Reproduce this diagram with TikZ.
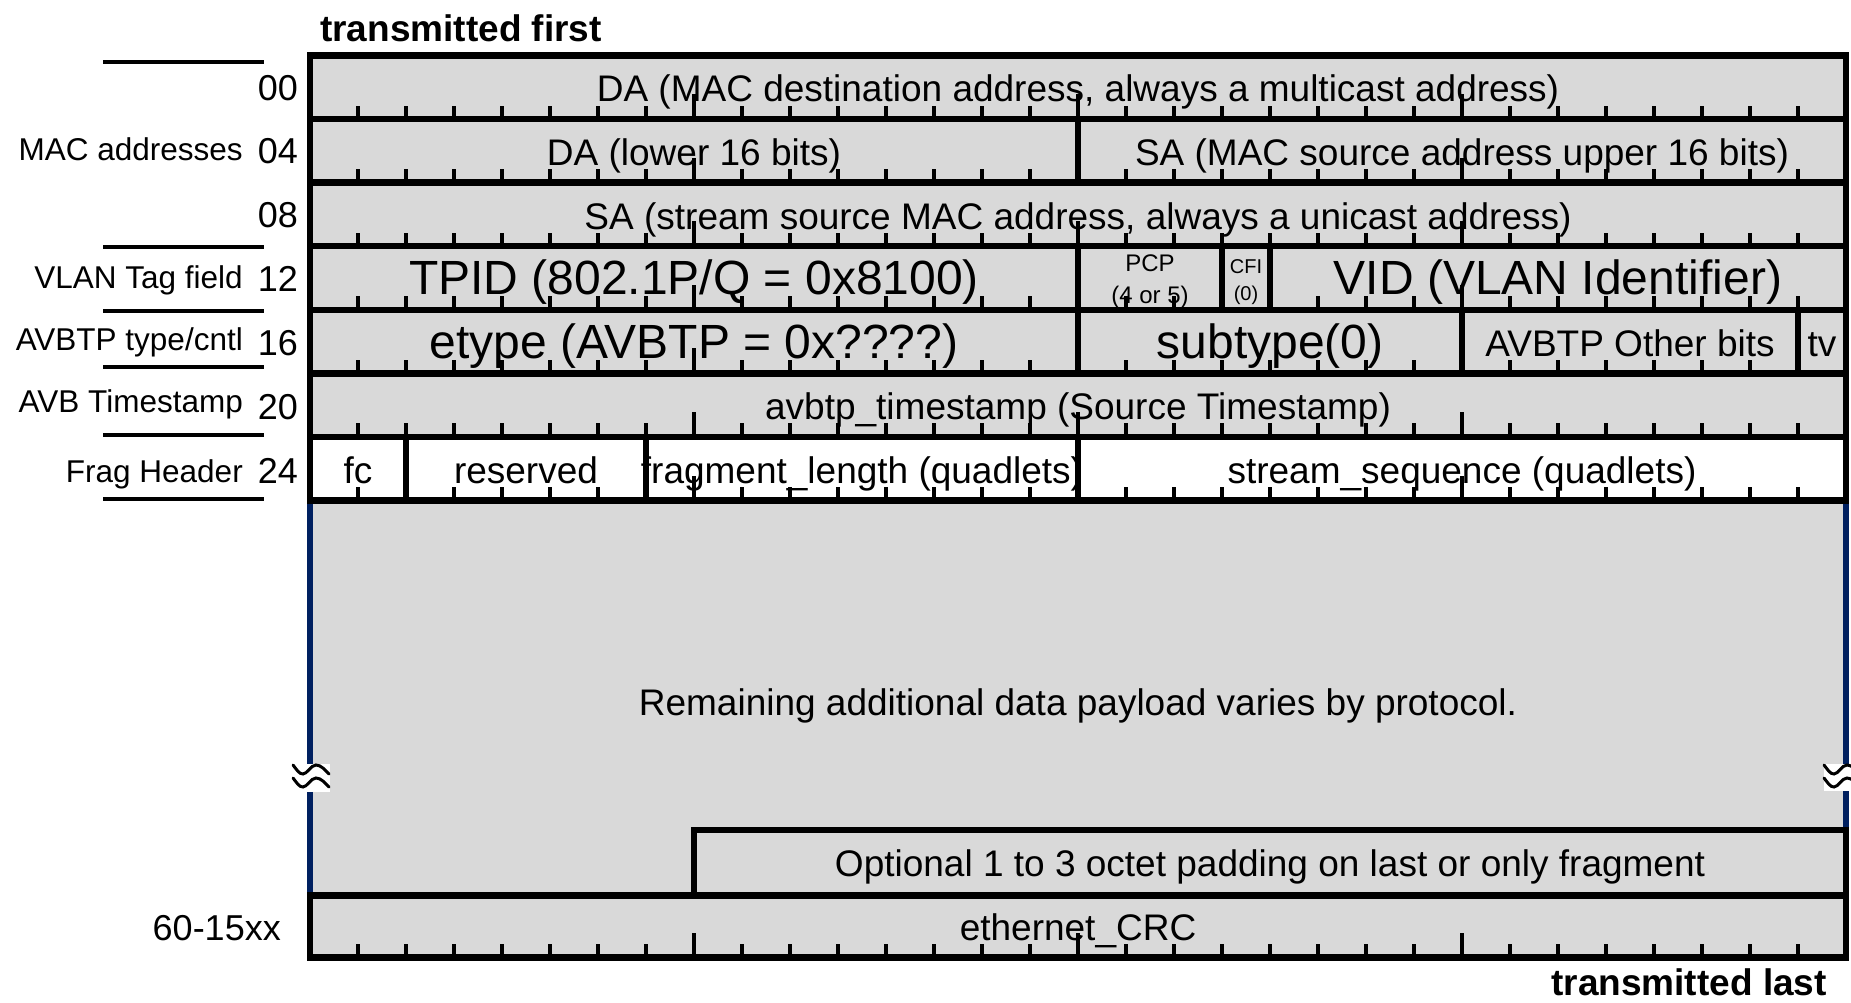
\documentclass[tikz,border=0pt]{standalone}
\usepackage{fontspec}
\setmainfont{Liberation Sans}
\definecolor{cellgray}{RGB}{217,217,217}
\definecolor{navyline}{RGB}{0,32,96}
\newcommand{\fsN}{\fontsize{37}{42}\selectfont}
\newcommand{\fsB}{\fontsize{48}{54}\selectfont}
\newcommand{\fsL}{\fontsize{31.5}{36}\selectfont}
\newcommand{\fsNum}{\fontsize{36}{40}\selectfont}
\newcommand{\fsP}{\fontsize{24}{28}\selectfont}
\newcommand{\fsC}{\fontsize{20}{24}\selectfont}
\newcommand{\fsT}{\fontsize{37}{42}\selectfont\bfseries}
\begin{document}
\begin{tikzpicture}[x=1pt,y=-1pt,
  txt/.style={inner sep=0pt,anchor=base,font=\fsN},
  bigtxt/.style={txt,font=\fsB},
  numtxt/.style={inner sep=0pt,anchor=base east,font=\fsNum},
  lbltxt/.style={inner sep=0pt,anchor=base east,font=\fsL},
  heavy/.style={line width=6.5pt,black},
  navy/.style={line width=6.5pt,navyline},
  tickline/.style={line width=3.5pt,black},
  sideline/.style={line width=3.5pt,black},
  wave/.style={line width=3pt,black,line cap=round}]
\useasboundingbox (0,0) rectangle (1851,1003);
\fill[white] (0,0) rectangle (1851,1003);
% fills
\fill[cellgray] (310,55.5) rectangle (1846,436.9);
\fill[white] (310,436.9) rectangle (1846,500.5);
\fill[cellgray] (310,500.5) rectangle (1846,957.5);
% header texts
\node[inner sep=0pt,anchor=base west,font=\fsT] (tfirst) at (320,42) {transmitted first};
\node[inner sep=0pt,anchor=base east,font=\fsT] (tlast) at (1827,995) {transmitted last};
% left labels
\node[numtxt] (n00) at (298,100.6) {00};
\node[numtxt] (n04) at (298,164) {04};
\node[numtxt] (n08) at (298,227.5) {08};
\node[numtxt] (n12) at (298,291.3) {12};
\node[numtxt] (n16) at (298,355) {16};
\node[numtxt] (n20) at (298,419.5) {20};
\node[numtxt] (n24) at (298,483) {24};
\node[numtxt] (ncrc) at (281,940) {60-15xx};
\node[lbltxt] (lmac) at (243,161) {MAC addresses};
\node[lbltxt] (lvlan) at (243,288.5) {VLAN Tag field};
\node[lbltxt] (lavbtp) at (243,350.5) {AVBTP type/cntl};
\node[lbltxt] (lts) at (243,412) {AVB Timestamp};
\node[lbltxt] (lfrag) at (243,482) {Frag Header};
\foreach \yy in {62,247,311,367,435,499}
  \draw[sideline] (103,\yy) -- (264,\yy);
% row texts
\node[txt] (da) at (1078,102) {DA (MAC destination address, always a multicast address)};
\node[txt] (dalow) at (694,165.6) {DA (lower 16 bits)};
\node[txt] (saup) at (1462,165.6) {SA (MAC source address upper 16 bits)};
\node[txt] (sa) at (1078,229.2) {SA (stream source MAC address, always a unicast address)};
\node[bigtxt] (tpid) at (694,294.8) {TPID (802.1P/Q = 0x8100)};
\node[txt,font=\fsP] (pcp) at (1150,271.7) {PCP};
\node[txt,font=\fsP] (pcpv) at (1150,303) {(4 or 5)};
\node[txt,font=\fsC] (cfi) at (1246,273.3) {CFI};
\node[txt,font=\fsC] (cfiv) at (1246,300) {(0)};
\node[bigtxt] (vid) at (1558,294.8) {VID (VLAN Identifier)};
\node[bigtxt] (etype) at (694,358.4) {etype (AVBTP = 0x????)};
\node[bigtxt] (subtype) at (1270,358.4) {subtype(0)};
\node[txt] (other) at (1630,356.4) {AVBTP Other bits};
\node[txt] (tv) at (1822,356.4) {tv};
\node[txt] (ts) at (1078,419.9) {avbtp\_timestamp (Source Timestamp)};
\node[txt] (fc) at (358,483.5) {fc};
\node[txt] (res) at (526,483.5) {reserved};
\node[txt] (flen) at (862,483.5) {fragment\_length (quadlets)};
\node[txt] (sseq) at (1462,483.5) {stream\_sequence (quadlets)};
\node[txt] (payload) at (1078,715) {Remaining additional data payload varies by protocol.};
\node[txt] (pad) at (1270,876) {Optional 1 to 3 octet padding on last or only fragment};
\node[txt] (crc) at (1078,940.5) {ethernet\_CRC};
% ticks
\foreach \yb in {119.1,182.6,246.2,309.8,373.4,436.9,500.5,957.5}
  \foreach \b in {1,...,31} {
    \pgfmathsetmacro\len{mod(\b,8)==0 ? 25 : 13.5}
    \draw[tickline] (310+48*\b,\yb) -- ++(0,-\len);
  }
% row lines
\foreach \yy in {119.1,182.6,246.2,309.8,373.4,436.9}
  \draw[heavy] (310,\yy) -- (1846,\yy);
\draw[heavy] (1078,119.1) -- (1078,182.6);
\foreach \xx in {1078,1222,1270} \draw[heavy] (\xx,246.2) -- (\xx,309.8);
\foreach \xx in {1078,1462,1798} \draw[heavy] (\xx,309.8) -- (\xx,373.4);
\foreach \xx in {406,646,1078} \draw[heavy] (\xx,436.9) -- (\xx,500.5);
% payload sides
\draw[navy] (310,500.5) -- (310,895.5);
\draw[navy] (1846,500.5) -- (1846,830);
\draw[heavy] (310,55.5) rectangle (1846,500.5);
% padding and CRC
\draw[heavy] (694,895.5) -- (694,830) -- (1846,830) -- (1846,895.5);
\draw[heavy] (310,895.5) rectangle (1846,957.5);
% break symbols
\fill[white] (307,764) rectangle (330,792);
\fill[white] (1824,764) rectangle (1851,791);
\foreach \ox/\oy in {293/765,1824/765} {
  \foreach \dy in {0,13} {
    \draw[wave] (\ox,\oy+\dy) .. controls (\ox+4,\oy+\dy+5) and (\ox+6,\oy+\dy+9) .. (\ox+10,\oy+\dy+9)
      .. controls (\ox+14,\oy+\dy+9) and (\ox+18,\oy+\dy) .. (\ox+23,\oy+\dy)
      .. controls (\ox+28,\oy+\dy) and (\ox+32,\oy+\dy+5) .. (\ox+36,\oy+\dy+9);
  }
}
\end{tikzpicture}
\end{document}
